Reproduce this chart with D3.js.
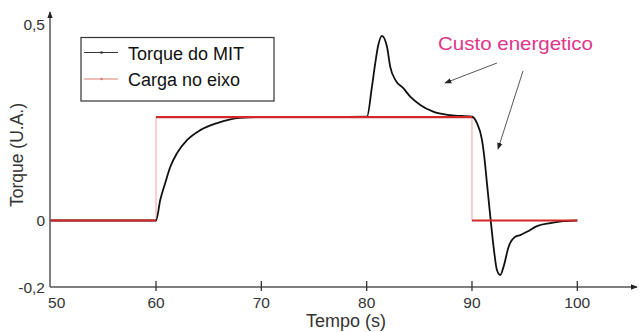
<!DOCTYPE html>
<html>
<head>
<meta charset="utf-8">
<script src="https://cdn.jsdelivr.net/npm/d3@7.9.0/dist/d3.min.js"></script>
<style>
  body { margin: 0; background: #fff; }
  svg { display: block; font-family: Arial, "Liberation Sans", sans-serif; }
</style>
</head>
<body>
<svg id="chart" width="640" height="332"></svg>
<script>
// torque of the motor (black curve)
const torqueTime = [50, 60, 60.4, 60.87, 61.35, 62.01, 62.96, 64.2, 65.8, 68.0, 69.9, 75, 80.03, 80.5, 80.82, 81.07, 81.45, 81.93, 82.24, 82.72, 83.5, 84.14, 85.09, 86.32, 87.94, 90, 90.47, 90.95, 91.17, 91.42, 91.74, 92.05, 92.37, 92.69, 93.0, 93.48, 94.11, 94.59, 95.22, 96.17, 97.44, 98.7, 100];
const torqueValue = [0, 0, 0.052, 0.095, 0.136, 0.172, 0.205, 0.230, 0.248, 0.261, 0.263, 0.263, 0.264, 0.340, 0.401, 0.442, 0.470, 0.442, 0.391, 0.358, 0.336, 0.315, 0.294, 0.277, 0.268, 0.264, 0.248, 0.205, 0.162, 0.095, 0.010, -0.079, -0.149, -0.164, -0.139, -0.079, -0.049, -0.044, -0.034, -0.017, -0.008, -0.002, 0];

// load on the shaft (red step)
const loadTime = [50, 60, 60, 90, 90, 100];
const loadValue = [0, 0, 0.263, 0.263, 0, 0];

const xTicks = [60, 70, 80, 90, 100];
const yTicks = [-0.2, 0, 0.5];
const yTickLabels = ['-0,2', '0', '0,5'];
const legendLabels = ['Torque do MIT', 'Carga no eixo'];

const svg = d3.select('#chart');

const x = d3.scaleLinear().domain([50, 100]).range([50.7, 577.3]);
// the original axis is schematic, so the y scale is piecewise
const y = d3.scaleLinear().domain([-0.2, 0, 0.5]).range([287, 220.5, 24]);

const axisColor = '#555';

// arrow markers
const defs = svg.append('defs');
defs.append('marker')
    .attr('id', 'axisArrow')
    .attr('viewBox', '0 0 10 10')
    .attr('refX', 9).attr('refY', 5)
    .attr('markerWidth', 7).attr('markerHeight', 7)
    .attr('markerUnits', 'userSpaceOnUse')
    .attr('orient', 'auto')
    .append('path').attr('d', 'M0,1 L10,5 L0,9 Z').attr('fill', '#222');
defs.append('marker')
    .attr('id', 'noteArrow')
    .attr('viewBox', '0 0 10 10')
    .attr('refX', 9).attr('refY', 5)
    .attr('markerWidth', 7).attr('markerHeight', 7)
    .attr('markerUnits', 'userSpaceOnUse')
    .attr('orient', 'auto')
    .append('path').attr('d', 'M0,1 L10,5 L0,9 Z').attr('fill', '#222');

// axes
svg.append('line')
    .attr('x1', 50).attr('y1', y(-0.2)).attr('x2', 637).attr('y2', y(-0.2))
    .attr('stroke', axisColor).attr('stroke-width', 1.5)
    .attr('marker-end', 'url(#axisArrow)');
svg.append('line')
    .attr('x1', 50).attr('y1', y(-0.2)).attr('x2', 50).attr('y2', 12)
    .attr('stroke', axisColor).attr('stroke-width', 1.5)
    .attr('marker-end', 'url(#axisArrow)');

svg.selectAll('.xtick').data(xTicks).join('line')
    .attr('class', 'xtick')
    .attr('x1', d => x(d)).attr('x2', d => x(d))
    .attr('y1', y(-0.2) - 6).attr('y2', y(-0.2) + 4)
    .attr('stroke', '#333').attr('stroke-width', 1.3);

svg.selectAll('.xlabel').data([50].concat(xTicks)).join('text')
    .attr('class', 'xlabel')
    .attr('x', d => d === 50 ? x(d) + 6 : x(d))
    .attr('y', 308)
    .attr('text-anchor', 'middle')
    .attr('font-size', 15.5)
    .attr('fill', '#333')
    .text(d => d);

svg.selectAll('.ylabel').data(yTicks).join('text')
    .attr('class', 'ylabel')
    .attr('x', 45)
    .attr('y', d => y(d) + 5.5)
    .attr('text-anchor', 'end')
    .attr('font-size', 15.5)
    .attr('fill', '#333')
    .text((d, i) => yTickLabels[i]);

svg.append('text')
    .attr('x', 346).attr('y', 327)
    .attr('text-anchor', 'middle')
    .attr('font-size', 18)
    .attr('fill', '#333')
    .text('Tempo (s)');

svg.append('text')
    .attr('transform', 'translate(23,155) rotate(-90)')
    .attr('text-anchor', 'middle')
    .attr('font-size', 17.5)
    .attr('fill', '#333')
    .text('Torque (U.A.)');

// load: horizontal parts thick red, vertical jumps thin pink
const loadPts = loadTime.map((t, i) => ({ t, v: loadValue[i] }));
const loadSegs = d3.pairs(loadPts);
svg.selectAll('.loadv').data(loadSegs.filter(([a, b]) => a.t === b.t)).join('line')
    .attr('class', 'loadv')
    .attr('x1', d => x(d[0].t)).attr('y1', d => y(d[0].v))
    .attr('x2', d => x(d[1].t)).attr('y2', d => y(d[1].v))
    .attr('stroke', '#f2a0a0').attr('stroke-width', 1);

// torque curve
const line = d3.line()
    .x((d, i) => x(torqueTime[i]))
    .y(d => y(d))
    .curve(d3.curveMonotoneX);

svg.append('path')
    .attr('d', line(torqueValue))
    .attr('fill', 'none')
    .attr('stroke', '#111')
    .attr('stroke-width', 1.8);

svg.selectAll('.loadh').data(loadSegs.filter(([a, b]) => a.t !== b.t)).join('line')
    .attr('class', 'loadh')
    .attr('x1', d => x(d[0].t)).attr('y1', d => y(d[0].v))
    .attr('x2', d => x(d[1].t)).attr('y2', d => y(d[1].v))
    .attr('stroke', '#d42828').attr('stroke-width', 2.2);

// legend
const legend = svg.append('g');
legend.append('rect')
    .attr('x', 81).attr('y', 37.5).attr('width', 193).attr('height', 63.5)
    .attr('fill', '#fff').attr('stroke', '#333').attr('stroke-width', 1.2);
const legendColors = ['#333', '#d98070'];
legendLabels.forEach((label, i) => {
    const ly = 52.5 + i * 26.5;
    legend.append('line')
        .attr('x1', 84).attr('x2', 118).attr('y1', ly).attr('y2', ly)
        .attr('stroke', legendColors[i]).attr('stroke-width', 1.2);
    legend.append('circle')
        .attr('cx', 101.5).attr('cy', ly).attr('r', 1.3)
        .attr('fill', legendColors[i]);
    legend.append('text')
        .attr('x', 128).attr('y', ly + 7)
        .attr('font-size', 18)
        .attr('fill', '#111')
        .text(label);
});

// annotation
svg.append('text')
    .attr('x', 438).attr('y', 50)
    .attr('font-size', 18.5)
    .attr('textLength', 155)
    .attr('lengthAdjust', 'spacingAndGlyphs')
    .attr('fill', '#e0358a')
    .text('Custo energetico');

svg.append('line')
    .attr('x1', 497).attr('y1', 63).attr('x2', 445).attr('y2', 83)
    .attr('stroke', '#444').attr('stroke-width', 0.9)
    .attr('marker-end', 'url(#noteArrow)');
svg.append('line')
    .attr('x1', 523).attr('y1', 71).attr('x2', 498).attr('y2', 149)
    .attr('stroke', '#444').attr('stroke-width', 0.9)
    .attr('marker-end', 'url(#noteArrow)');
</script>
</body>
</html>
